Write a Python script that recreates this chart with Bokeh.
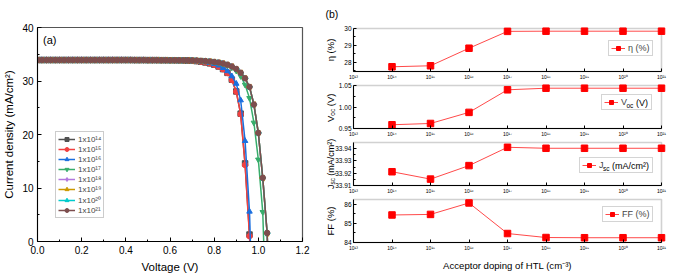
import math
from bokeh.plotting import figure
from bokeh.models import (Legend, LegendItem, Label, FixedTicker, NumeralTickFormatter, Range1d,
                          BoxAnnotation)
from bokeh.layouts import row, column
from bokeh.embed import file_html
from bokeh.resources import INLINE

FONT = "Liberation Sans"

# ---------------- panel (a): J-V curves ----------------
V_GRID = [0.00, 0.02, 0.04, 0.06, 0.08, 0.10, 0.12, 0.14, 0.16, 0.18,
          0.20, 0.22, 0.24, 0.26, 0.28, 0.30, 0.32, 0.34, 0.36, 0.38,
          0.40, 0.42, 0.44, 0.46, 0.48, 0.50, 0.52, 0.54, 0.56, 0.58,
          0.60, 0.62, 0.64, 0.66, 0.68, 0.70, 0.72, 0.74, 0.76, 0.78,
          0.80, 0.82, 0.84, 0.86, 0.88, 0.90, 0.92, 0.94, 0.96, 0.98,
          1.00, 1.02, 1.04, 1.06]

J_PLATEAU = [33.92, 33.92, 33.92, 33.92, 33.92, 33.92, 33.92, 33.92, 33.92, 33.92,
             33.92, 33.92, 33.92, 33.92, 33.92, 33.92, 33.92, 33.92, 33.92, 33.92,
             33.92, 33.92, 33.91, 33.91, 33.91, 33.90, 33.90, 33.90, 33.89, 33.89,
             33.88, 33.88, 33.87, 33.86]

J_TAIL_1E14 = [33.82, 33.78, 33.72, 33.62, 33.48, 33.30, 33.06, 32.72, 32.22, 31.52,
               30.25, 28.05, 23.90, 14.60, 1.30, -20.0]
J_TAIL_1E15 = [33.82, 33.78, 33.72, 33.62, 33.48, 33.30, 33.05, 32.70, 32.20, 31.50,
               30.20, 28.00, 23.80, 14.30, 1.00, -20.0]
J_TAIL_1E16 = [33.84, 33.80, 33.75, 33.67, 33.55, 33.40, 33.20, 32.90, 32.45, 31.85,
               30.90, 29.50, 26.40, 18.80, 5.60, -22.0]
J_TAIL_1E17 = [33.86, 33.84, 33.80, 33.76, 33.70, 33.62, 33.52, 33.38, 33.18, 32.90,
               32.50, 31.90, 30.90, 29.30, 26.80, 22.20, 15.30, 5.50, -20.0]
J_TAIL_1E18 = [33.87, 33.85, 33.82, 33.78, 33.73, 33.66, 33.57, 33.45, 33.28, 33.05,
               32.72, 32.25, 31.55, 30.50, 28.90, 25.60, 20.25, 11.80, 1.40, -24.0]
J_TAIL_1E19 = [33.87, 33.85, 33.82, 33.78, 33.73, 33.66, 33.57, 33.45, 33.28, 33.05,
               32.72, 32.25, 31.55, 30.50, 28.90, 25.60, 20.30, 11.85, 1.50, -24.0]
J_TAIL_1E20 = [33.87, 33.85, 33.82, 33.78, 33.73, 33.66, 33.57, 33.45, 33.28, 33.05,
               32.72, 32.25, 31.55, 30.50, 28.90, 25.60, 20.30, 11.90, 1.55, -24.0]
J_TAIL_1E21 = [33.87, 33.85, 33.82, 33.78, 33.73, 33.66, 33.57, 33.45, 33.28, 33.05,
               32.72, 32.25, 31.55, 30.50, 28.90, 25.60, 20.30, 11.90, 1.60, -24.0]

SERIES_TAILS = [J_TAIL_1E14, J_TAIL_1E15, J_TAIL_1E16, J_TAIL_1E17,
                J_TAIL_1E18, J_TAIL_1E19, J_TAIL_1E20, J_TAIL_1E21]
SERIES_LABELS = ["1x10¹⁴", "1x10¹⁵", "1x10¹⁶", "1x10¹⁷",
                 "1x10¹⁸", "1x10¹⁹", "1x10²⁰", "1x10²¹"]
SERIES_COLORS = ["#515151", "#F14040", "#1A6FDF", "#37AD6B",
                 "#B177DE", "#CC9900", "#00CBCC", "#7D4E4E"]
SERIES_MARKERS = [("square", 0.0), ("circle", 0.0), ("triangle", 0.0), ("inverted_triangle", 0.0),
                  ("diamond", 0.0), ("triangle", math.pi / 2), ("triangle", -math.pi / 2), ("circle", 0.0)]

V_TICKS = [0.0, 0.2, 0.4, 0.6, 0.8, 1.0, 1.2]
V_MINOR = [0.1, 0.3, 0.5, 0.7, 0.9, 1.1]
J_TICKS = [0, 10, 20, 30, 40]
J_MINOR = [5, 15, 25, 35]

# ---------------- panel (b): device parameters ----------------
DOPING = [1e14, 1e15, 1e16, 1e17, 1e18, 1e19, 1e20, 1e21]
DOPING_MIN, DOPING_MAX = 1e13, 1e21
DOPING_TICKS = [1e13, 1e14, 1e15, 1e16, 1e17, 1e18, 1e19, 1e20, 1e21]
DOPING_TICK_LABELS = ["10¹³", "10¹⁴", "10¹⁵", "10¹⁶", "10¹⁷", "10¹⁸", "10¹⁹", "10²⁰", "10²¹"]
ETA = [27.73, 27.79, 28.83, 29.83, 29.84, 29.84, 29.84, 29.84]
VOC = [0.9587, 0.9617, 0.9875, 1.0400, 1.0437, 1.0437, 1.0437, 1.0437]
JSC = [33.9212, 33.9152, 33.9262, 33.9411, 33.9403, 33.9403, 33.9403, 33.9403]
FF = [85.44, 85.47, 86.07, 84.47, 84.26, 84.25, 84.25, 84.25]


def style_axes(p, tick_size, label_size, standoff=2, label_standoff=2, tick_in=4):
    for ax in list(p.xaxis) + list(p.yaxis):
        ax.axis_line_color = "black"
        ax.axis_line_width = 1
        ax.major_tick_in = tick_in
        ax.major_tick_out = 0
        ax.minor_tick_in = 2
        ax.minor_tick_out = 0
        ax.major_tick_line_color = "black"
        ax.minor_tick_line_color = "black"
        ax.major_label_text_font = FONT
        ax.major_label_text_font_size = tick_size
        ax.major_label_text_color = "black"
        ax.major_label_standoff = standoff
        ax.axis_label_text_font = FONT
        ax.axis_label_text_font_size = label_size
        ax.axis_label_text_font_style = "normal"
        ax.axis_label_text_color = "black"
        ax.axis_label_standoff = label_standoff
    p.grid.visible = False
    p.outline_line_color = "#555555"
    p.outline_line_width = 1.2


def add_text(p, x, y, text, size, angle=0.0, align="left", baseline="middle"):
    p.add_layout(Label(x=x, y=y, x_units="screen", y_units="screen", text=text, angle=angle,
                       text_font=FONT, text_font_size=size, text_align=align,
                       text_baseline=baseline, text_color="black", level="overlay"))


# ---------------- left figure ----------------
pa = figure(width=318, height=277, x_range=Range1d(0, 1.2), y_range=Range1d(0, 40),
            output_backend="svg", toolbar_location=None,
            min_border_left=35, min_border_right=16, min_border_top=27, min_border_bottom=36)
pa.xaxis.ticker = FixedTicker(ticks=V_TICKS, minor_ticks=V_MINOR)
pa.yaxis.ticker = FixedTicker(ticks=J_TICKS, minor_ticks=J_MINOR)
pa.xaxis.formatter = NumeralTickFormatter(format="0.0")
pa.xaxis.axis_label = "Voltage (V)"
pa.yaxis.axis_label = "Current density (mA/cm²)"
style_axes(pa, "10px", "11.5px", standoff=4, label_standoff=4)

items = []
for tail, lab, col, (mk, ang) in zip(SERIES_TAILS, SERIES_LABELS, SERIES_COLORS, SERIES_MARKERS):
    js = J_PLATEAU + tail
    vs = V_GRID[:len(js)]
    lr = pa.line(vs, js, line_color=col, line_width=1.5)
    sr = pa.scatter(vs, js, marker=mk, angle=ang, size=5.5, fill_color=col, line_color=col)
    items.append(LegendItem(label=lab, renderers=[lr, sr]))

leg_a = Legend(items=items, location=(18, 23), label_text_font=FONT, label_text_font_size="8px",
               label_height=10, glyph_height=10, glyph_width=17, label_standoff=3,
               padding=2, spacing=0, margin=0, border_line_color="#999999", border_line_width=1)
pa.add_layout(leg_a)
add_text(pa, 5.5, 202, "(a)", "11px")

# ---------------- right figures ----------------
# Each sub-figure's frame fills its whole canvas (so titles and tick labels sit inside);
# both axes are pinned at the corner of the data area.
RED_LINE = "#ff4a4a"
RED_MARK = "#ff0000"
SUB_W = 382          # 318 -> 700
PAD_L = 35           # px left of the y axis
PLOT_W = 308         # px of the data area
PAD_R = 39           # px right of the data area
DATA_H = 43


def sub_fig(height, top_pad, bot_pad, yr, yticks, yminor, values, fmt=None):
    ylo, yhi = yr
    yspan = (yhi - ylo) / DATA_H
    decades = math.log10(DOPING_MAX) - math.log10(DOPING_MIN)
    per_px = decades / PLOT_W
    x_start = 10 ** (math.log10(DOPING_MIN) - per_px * PAD_L)
    x_end = 10 ** (math.log10(DOPING_MAX) + per_px * PAD_R)
    p = figure(width=SUB_W, height=height, x_axis_type="log",
               x_range=Range1d(x_start, x_end),
               y_range=Range1d(ylo - yspan * bot_pad, yhi + yspan * top_pad),
               output_backend="svg", toolbar_location=None,
               min_border_left=0, min_border_right=0, min_border_top=0, min_border_bottom=0)
    p.xaxis.ticker = FixedTicker(ticks=DOPING_TICKS, minor_ticks=[])
    p.xaxis.major_label_overrides = {t: s for t, s in zip(DOPING_TICKS, DOPING_TICK_LABELS)}
    p.xaxis.bounds = (DOPING_MIN, DOPING_MAX)
    p.xaxis.fixed_location = ylo
    p.yaxis.ticker = FixedTicker(ticks=yticks, minor_ticks=yminor)
    p.yaxis.fixed_location = DOPING_MIN
    p.yaxis.bounds = (ylo, yhi)
    if fmt:
        p.yaxis.formatter = NumeralTickFormatter(format=fmt)
    style_axes(p, "6.5px", "9.5px", standoff=2, label_standoff=6, tick_in=3)
    p.xaxis.major_label_text_font_size = "5px"
    p.outline_line_color = None
    p.add_layout(BoxAnnotation(left=DOPING_MIN, right=DOPING_MAX, bottom=ylo, top=yhi,
                               fill_alpha=0.0, line_color="#666666", line_width=1.6,
                               level="underlay"))
    lr = p.line(DOPING, values, line_color=RED_LINE, line_width=1)
    sr = p.scatter(DOPING, values, marker="square", size=6.5, fill_color=RED_MARK, line_color=RED_MARK)
    return p, lr, sr


def add_legend(p, lr, sr, label, lx, ly, label_width=20, transparent=False):
    leg = Legend(items=[LegendItem(label=label, renderers=[lr, sr])], location=(lx, ly),
                 label_text_font=FONT, label_text_font_size="9px", label_height=10,
                 glyph_height=10, glyph_width=14, label_standoff=3, label_width=label_width,
                 padding=2, spacing=0, margin=0, border_line_color="#aaaaaa", border_line_width=1,
                 background_fill_alpha=0.0 if transparent else 1.0)
    p.add_layout(leg)


TX = 12.0
SUB = 2.0
ROT = math.pi / 2

# eta : figure 0..81, data 28..71 (10 px below)
B = 10
p1, l1, s1 = sub_fig(81, 28, B, (27.45, 30.0), [28, 29, 30], [27.5, 28.5, 29.5], ETA)
add_legend(p1, l1, s1, "η (%)", 290, B + 15)
add_text(p1, 7, B + 57.5, "(b)", "10.5px")
add_text(p1, TX, B + 21.5, "η (%)", "9.5px", angle=ROT, align="center", baseline="alphabetic")

# Voc : figure 81..138, data 85..128
p2, l2, s2 = sub_fig(57, 4, B, (0.95, 1.05), [0.95, 1.00, 1.05], [0.975, 1.025], VOC, "0.00")
add_legend(p2, l2, s2, "V", 283, B + 18, label_width=28, transparent=True)
add_text(p2, 302 + 6.0, B + 18 + 7.2 - 2.5, "oc", "6.5px")
add_text(p2, 302 + 6.0 + 6.9 + 2.5, B + 18 + 7.2, "(V)", "9px")
y0 = B + 21.5 - 29.9 / 2
add_text(p2, TX, y0, "V", "9.5px", angle=ROT, baseline="alphabetic")
add_text(p2, TX + SUB, y0 + 6.3, "oc", "6.5px", angle=ROT, baseline="alphabetic")
add_text(p2, TX, y0 + 6.3 + 6.9 + 2.6, "(V)", "9.5px", angle=ROT, baseline="alphabetic")

# Jsc : figure 138..195, data 142..185
p3, l3, s3 = sub_fig(57, 4, B, (33.91, 33.945), [33.91, 33.92, 33.93, 33.94],
                     [33.915, 33.925, 33.935], JSC, "0.00")
add_legend(p3, l3, s3, "J", 261, B + 12, label_width=51, transparent=True)
add_text(p3, 280 + 4.5, B + 12 + 7.2 - 2.5, "sc", "6.5px")
add_text(p3, 280 + 4.5 + 6.5 + 2.5, B + 12 + 7.2, "(mA/cm²)", "9px")
y0 = B + 21.5 - 50.0 / 2
add_text(p3, TX, y0, "J", "9px", angle=ROT, baseline="alphabetic")
add_text(p3, TX + SUB, y0 + 4.5, "sc", "6.5px", angle=ROT, baseline="alphabetic")
add_text(p3, TX, y0 + 4.5 + 6.5 + 2.2, "(mA/cm²)", "9px", angle=ROT, baseline="alphabetic")

# FF : figure 195..277, data 199..242 (35 px below)
B4 = 35
p4, l4, s4 = sub_fig(82, 4, B4, (84.0, 86.25), [84, 85, 86], [84.5, 85.5], FF)
add_legend(p4, l4, s4, "FF (%)", 284, B4 + 20)
add_text(p4, TX, B4 + 21.5, "FF (%)", "9.5px", angle=ROT, align="center", baseline="alphabetic")
p4.xaxis.axis_label = "Acceptor doping of HTL (cm⁻³)"
p4.xaxis.axis_label_text_font_size = "9.6px"

right = column(p1, p2, p3, p4, spacing=0)
layout = row(pa, right, spacing=0)

with open("out.html", "w") as f:
    f.write(file_html(layout, INLINE))
